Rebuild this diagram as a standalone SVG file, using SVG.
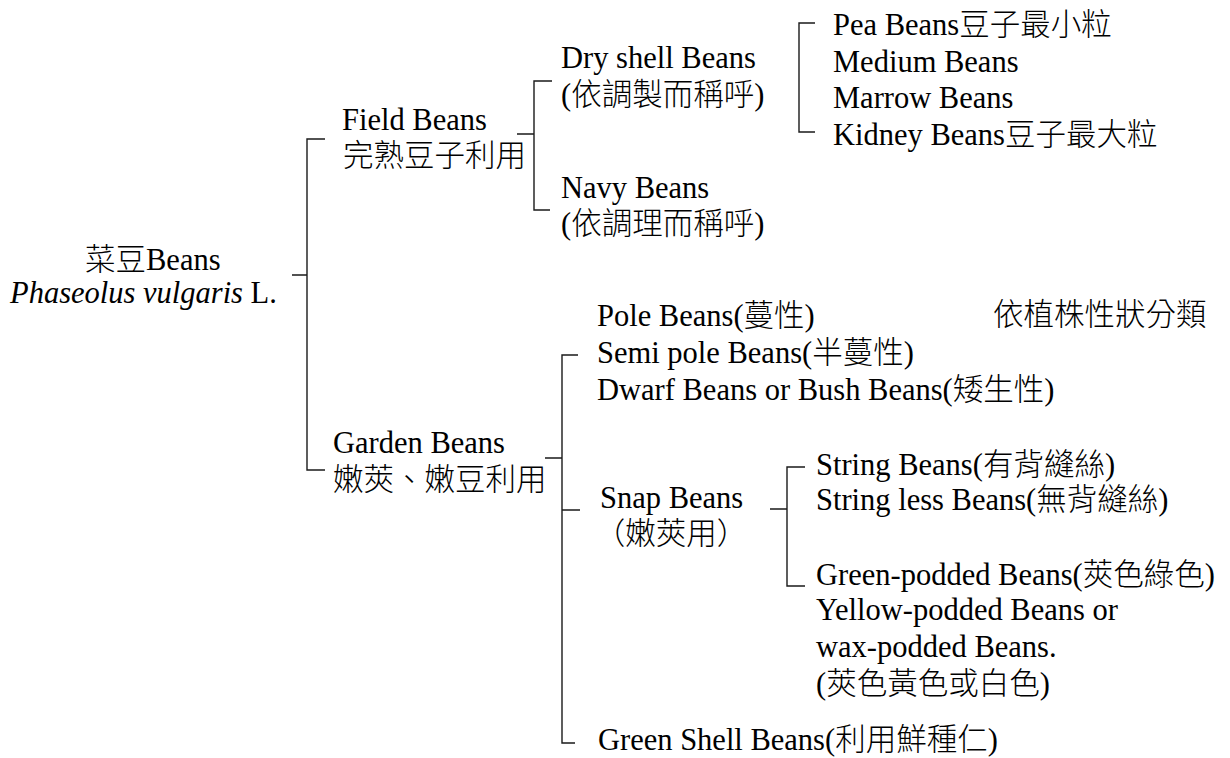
<svg xmlns="http://www.w3.org/2000/svg" width="1230" height="758" viewBox="0 0 1230 758">
<style>
text{font-family:"Liberation Serif","Noto Sans CJK TC",serif;font-size:30.5px;font-weight:300;fill:#000}
.it{font-style:italic}
.mid{text-anchor:middle}
.br{fill:none;stroke:#1a1a1a;stroke-width:1.4}
</style>
<rect width="1230" height="758" fill="#fff"/>
<g id="connectors" class="br">
<path d="M325,139 H307 V470 H325 M292,275 H307"/>
<path d="M552,81 H534 V210 H550 M517,134 H534"/>
<path d="M815,23 H799 V132 H815"/>
<path d="M578,355 H562 V743 H575 M545,458 H562 M562,510 H580"/>
<path d="M805,467 H787 V586 H805 M770,509 H787"/>
</g>
<g id="root">
<text x="85" y="270">菜豆Beans</text>
<text x="10" y="303"><tspan class="it">Phaseolus vulgaris</tspan> L.</text>
</g>
<g id="field">
<text x="342" y="130">Field Beans</text>
<text x="343" y="166">完熟豆子利用</text>
</g>
<g id="dryshell">
<text x="561" y="68">Dry shell Beans</text>
<text x="561" y="105">(依調製而稱呼)</text>
</g>
<g id="navy">
<text x="561" y="198">Navy Beans</text>
<text x="561" y="234">(依調理而稱呼)</text>
</g>
<g id="drytypes">
<text x="833" y="35">Pea Beans豆子最小粒</text>
<text x="833" y="72">Medium Beans</text>
<text x="833" y="108">Marrow Beans</text>
<text x="833" y="145">Kidney Beans豆子最大粒</text>
</g>
<g id="garden">
<text x="333" y="453">Garden Beans</text>
<text x="333" y="490">嫩莢、嫩豆利用</text>
</g>
<g id="habit">
<text x="597" y="326">Pole Beans(蔓性)</text>
<text x="993" y="325">依植株性狀分類</text>
<text x="597" y="363">Semi pole Beans(半蔓性)</text>
<text x="597" y="400">Dwarf Beans or Bush Beans(矮生性)</text>
</g>
<g id="snap">
<text x="600" y="508">Snap Beans</text>
<text x="671" y="544" class="mid">（嫩莢用）</text>
</g>
<g id="snaptypes">
<text x="816" y="475">String Beans(有背縫絲)</text>
<text x="816" y="510">String less Beans(無背縫絲)</text>
<text x="816" y="585">Green-podded Beans(莢色綠色)</text>
<text x="816" y="620">Yellow-podded Beans or</text>
<text x="816" y="657">wax-podded Beans.</text>
<text x="816" y="694">(莢色黃色或白色)</text>
</g>
<g id="greenshell">
<text x="598" y="750">Green Shell Beans(利用鮮種仁)</text>
</g>
</svg>
